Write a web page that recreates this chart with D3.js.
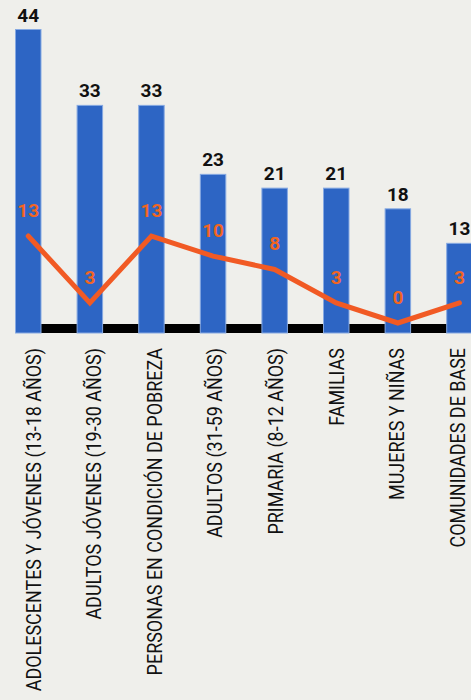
<!DOCTYPE html>
<html>
<head>
<meta charset="utf-8">
<script src="https://cdn.jsdelivr.net/npm/d3@7"></script>
<style>
  html, body { margin: 0; padding: 0; background: #efefeb; }
  svg { display: block; }
</style>
</head>
<body>
<script>
const categories = [
  "ADOLESCENTES Y JÓVENES (13-18 AÑOS)",
  "ADULTOS JÓVENES (19-30 AÑOS)",
  "PERSONAS EN CONDICIÓN DE POBREZA",
  "ADULTOS (31-59 AÑOS)",
  "PRIMARIA (8-12 AÑOS)",
  "FAMILIAS",
  "MUJERES Y NIÑAS",
  "COMUNIDADES DE BASE"
];
const barValues = [44, 33, 33, 23, 21, 21, 18, 13];
const lineValues = [13, 3, 13, 10, 8, 3, 0, 3];

const W = 471, H = 700;
const svg = d3.select("body").append("svg").attr("width", W).attr("height", H);
svg.append("rect").attr("width", W).attr("height", H).attr("fill", "#efefeb");

const x = d3.scaleBand().domain(categories).range([15, 472.7]).paddingInner(0.57).paddingOuter(0);
const xl = d3.scalePoint().domain(categories).range([40.5, 465]);
const y = d3.scaleLinear().domain([0, 44]).range([333, 29.5]);
const y2 = d3.scaleLinear().domain([0, 13]).range([323, 236]);

// black baseline band
svg.append("rect")
  .attr("x", x(categories[0])).attr("y", 324)
  .attr("width", W - x(categories[0])).attr("height", 9)
  .attr("fill", "#000");

// bars
svg.selectAll("rect.bar").data(barValues).join("rect")
  .attr("class", "bar")
  .attr("x", (d, i) => x(categories[i]) + 0.5)
  .attr("y", d => y(d))
  .attr("width", x.bandwidth() - 1)
  .attr("height", d => y(0) - y(d))
  .attr("fill", "#2d65c4")
  .attr("stroke", "#86a9e2")
  .attr("stroke-width", 1);

// bar value labels
svg.selectAll("text.val").data(barValues).join("text")
  .attr("class", "val")
  .attr("x", (d, i) => x(categories[i]) + x.bandwidth() / 2)
  .attr("y", d => y(d) - 8)
  .attr("text-anchor", "middle")
  .attr("font-family", "Roboto, sans-serif")
  .attr("font-weight", "bold")
  .attr("font-size", 19)
  .attr("fill", "#111")
  .text(d => d);

// line
const line = d3.line()
  .x((d, i) => x(categories[i]) + x.bandwidth() / 2)
  .y(d => y2(d));
svg.append("path").datum(lineValues)
  .attr("d", line)
  .attr("fill", "none")
  .attr("stroke", "#f15a24")
  .attr("stroke-width", 5)
  .attr("stroke-linecap", "round")
  .attr("stroke-linejoin", "miter");

// line labels
svg.selectAll("text.lv").data(lineValues).join("text")
  .attr("class", "lv")
  .attr("x", (d, i) => x(categories[i]) + x.bandwidth() / 2)
  .attr("y", d => y2(d) - 19)
  .attr("text-anchor", "middle")
  .attr("font-family", "Roboto, sans-serif")
  .attr("font-weight", "bold")
  .attr("font-size", 19)
  .attr("fill", "#f26522")
  .text(d => d);

// category labels (rotated)
svg.selectAll("text.cat").data(categories).join("text")
  .attr("class", "cat")
  .attr("transform", d => `translate(${xl(d)},348) rotate(-90) scale(0.855,1)`)
  .attr("text-anchor", "end")
  .attr("font-family", "Roboto, sans-serif")
  .attr("font-size", 21)
  .attr("fill", "#111")
  .text(d => d);
</script>
</body>
</html>
